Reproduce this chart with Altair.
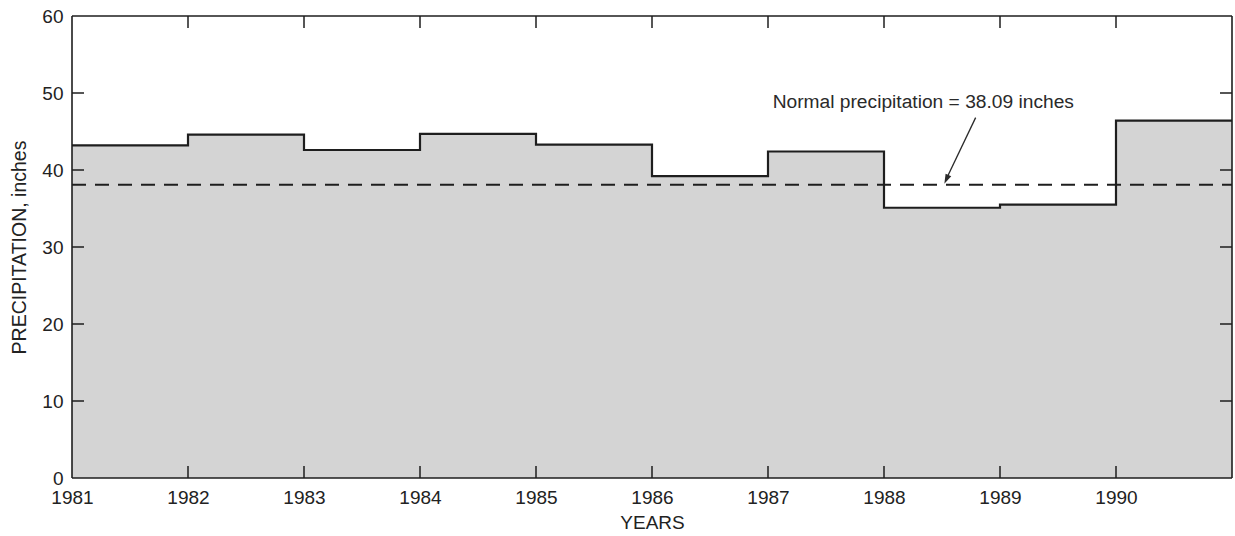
import altair as alt
import pandas as pd

# ---- data ----
years = [1981, 1982, 1983, 1984, 1985, 1986, 1987, 1988, 1989, 1990]
precip = [43.2, 44.6, 42.6, 44.7, 43.3, 39.2, 42.4, 35.1, 35.5, 46.4]
x_end = 1991
normal_value = 38.09
y_ticks = [0, 10, 20, 30, 40, 50, 60]
note_text = "Normal precipitation = 38.09 inches"

W, H = 1160, 462
FONT = "Liberation Sans"
INK = "#1e1e1e"

step_df = pd.DataFrame({"year": years + [x_end], "precip": precip + [precip[-1]]})

xs = alt.Scale(domain=[1981, 1991], nice=False, zero=False)
ys = alt.Scale(domain=[0, 60], nice=False)

x_axis = alt.Axis(values=years, format="d", title="YEARS", grid=False, domain=False,
                  ticks=False, labelPadding=10, titlePadding=6, labelFlush=False,
                  labelFont=FONT, titleFont=FONT, labelFontSize=19, titleFontSize=19,
                  labelColor="#222222", titleColor="#222222", titleFontWeight="normal")
y_axis = alt.Axis(values=y_ticks, title="PRECIPITATION, inches", grid=False, domain=False,
                  ticks=False, labelPadding=9, titlePadding=12,
                  labelFont=FONT, titleFont=FONT, labelFontSize=19, titleFontSize=19.5,
                  labelColor="#222222", titleColor="#222222", titleFontWeight="normal")

area = alt.Chart(step_df).mark_area(interpolate="step-after", color="#d4d4d4").encode(
    x=alt.X("year:Q", scale=xs, axis=x_axis),
    y=alt.Y("precip:Q", scale=ys, axis=y_axis),
)

line = alt.Chart(step_df).mark_line(interpolate="step-after", color=INK, strokeWidth=2.2).encode(
    x=alt.X("year:Q", scale=xs),
    y=alt.Y("precip:Q", scale=ys),
)

normal_df = pd.DataFrame({"x": [years[0]], "x2": [x_end], "y": [normal_value]})
normal_rule = alt.Chart(normal_df).mark_rule(color=INK, strokeWidth=2, strokeDash=[14, 9]).encode(
    x=alt.X("x:Q", scale=xs), x2="x2:Q", y=alt.Y("y:Q", scale=ys)
)

# inward tick marks on all four sides
xt_df = pd.DataFrame({"year": years[1:]})
yt_df = pd.DataFrame({"v": y_ticks[1:-1]})
top_ticks = alt.Chart(xt_df).mark_rule(color=INK, strokeWidth=1.5).encode(
    x=alt.X("year:Q", scale=xs), y=alt.value(0), y2=alt.value(12))
bottom_ticks = alt.Chart(xt_df).mark_rule(color=INK, strokeWidth=1.5).encode(
    x=alt.X("year:Q", scale=xs), y=alt.value(H - 12), y2=alt.value(H))
left_ticks = alt.Chart(yt_df).mark_rule(color=INK, strokeWidth=1.5).encode(
    y=alt.Y("v:Q", scale=ys), x=alt.value(0), x2=alt.value(12))
right_ticks = alt.Chart(yt_df).mark_rule(color=INK, strokeWidth=1.5).encode(
    y=alt.Y("v:Q", scale=ys), x=alt.value(W - 12), x2=alt.value(W))

one = pd.DataFrame({"k": [0]})
frame = alt.layer(
    alt.Chart(one).mark_rule(color=INK, strokeWidth=1.6).encode(x=alt.value(0), x2=alt.value(W), y=alt.value(0)),
    alt.Chart(one).mark_rule(color=INK, strokeWidth=1.6).encode(x=alt.value(0), x2=alt.value(W), y=alt.value(H)),
    alt.Chart(one).mark_rule(color=INK, strokeWidth=1.6).encode(y=alt.value(0), y2=alt.value(H), x=alt.value(0)),
    alt.Chart(one).mark_rule(color=INK, strokeWidth=1.6).encode(y=alt.value(0), y2=alt.value(H), x=alt.value(W)),
)

# annotation with arrow
note_df = pd.DataFrame({"x": [1987.04], "y": [48.8], "t": [note_text]})
note = alt.Chart(note_df).mark_text(align="left", baseline="middle", font=FONT, fontSize=19.2,
                                    color="#2a2a2a").encode(
    x=alt.X("x:Q", scale=xs), y=alt.Y("y:Q", scale=ys), text="t:N")

arrow_df = pd.DataFrame({"x": [1988.79], "y": [46.8], "x2": [1988.53], "y2": [38.6]})
arrow_shaft = alt.Chart(arrow_df).mark_rule(color="#2a2a2a", strokeWidth=1.3).encode(
    x=alt.X("x:Q", scale=xs), y=alt.Y("y:Q", scale=ys), x2="x2:Q", y2="y2:Q")
head_df = pd.DataFrame({"x": [1988.52], "y": [38.2]})
arrow_head = alt.Chart(head_df).mark_point(
    shape="M0,0 L0.32,1 L-0.32,1 Z", filled=True, color="#2a2a2a", opacity=1, size=380, angle=205
).encode(x=alt.X("x:Q", scale=xs), y=alt.Y("y:Q", scale=ys))

chart = alt.layer(
    area, normal_rule, line, top_ticks, bottom_ticks, left_ticks, right_ticks, frame,
    arrow_shaft, arrow_head, note
).properties(
    width=W, height=H,
    background="white",
    autosize=alt.AutoSizeParams(type="none"),
    padding={"left": 72, "top": 16, "right": 3, "bottom": 58},
).configure_view(stroke=None)

chart.save("out.html", embed_options={"renderer": "svg", "actions": False})
